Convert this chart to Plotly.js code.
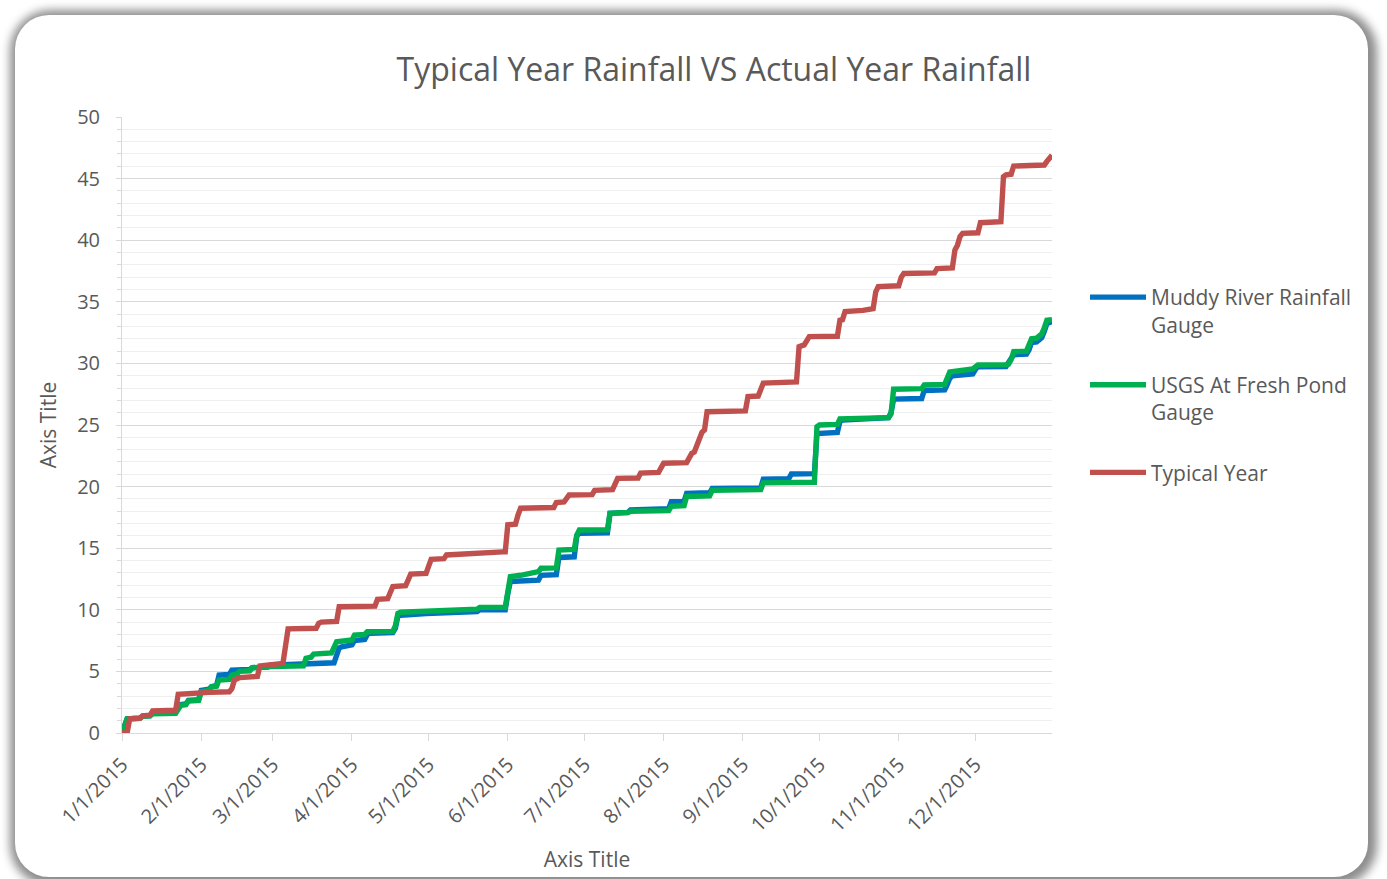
<!DOCTYPE html>
<html>
<head>
<meta charset="utf-8">
<script src="https://cdn.plot.ly/plotly-3.0.1.min.js"></script>
<style>
  html, body { margin:0; padding:0; background:#ffffff; width:1387px; height:879px; overflow:hidden; }
  #frame { position:absolute; left:15px; top:15px; width:1353px; height:862px; background:#ffffff;
           border-radius:34px; box-shadow: 2px 2px 10px 7px rgba(0,0,0,0.45); }
  #chart { position:absolute; left:0; top:0; width:1387px; height:879px; }
</style>
</head>
<body>
<div id="frame"></div>
<div id="chart"></div>
<script>
// ---- Data ----
const muddyDates = ['2015-01-01','2015-01-02','2015-01-03','2015-01-08','2015-01-09','2015-01-12','2015-01-13','2015-01-22','2015-01-23','2015-01-24','2015-01-26','2015-01-27','2015-01-31','2015-02-01','2015-02-04','2015-02-05','2015-02-07','2015-02-08','2015-02-12','2015-02-13','2015-02-20','2015-02-21','2015-02-27','2015-02-28','2015-03-25','2015-03-26','2015-03-27','2015-03-28','2015-04-01','2015-04-02','2015-04-06','2015-04-07','2015-04-08','2015-04-17','2015-04-18','2015-04-19','2015-04-20','2015-04-30','2015-05-20','2015-05-21','2015-05-31','2015-06-01','2015-06-02','2015-06-13','2015-06-14','2015-06-20','2015-06-21','2015-06-27','2015-06-28','2015-06-29','2015-07-10','2015-07-11','2015-07-18','2015-07-19','2015-08-03','2015-08-04','2015-08-09','2015-08-10','2015-08-19','2015-08-20','2015-09-08','2015-09-09','2015-09-19','2015-09-20','2015-09-29','2015-09-30','2015-10-08','2015-10-09','2015-10-10','2015-10-28','2015-10-29','2015-10-30','2015-11-10','2015-11-11','2015-11-19','2015-11-20','2015-11-21','2015-11-22','2015-11-30','2015-12-01','2015-12-02','2015-12-13','2015-12-14','2015-12-15','2015-12-16','2015-12-21','2015-12-22','2015-12-23','2015-12-25','2015-12-26','2015-12-27','2015-12-28','2015-12-29','2015-12-31'];
const muddyValues = [0,0.6,1.15,1.2,1.35,1.4,1.65,1.7,1.95,2.3,2.35,2.65,2.7,3.45,3.55,3.75,3.85,4.7,4.75,5.1,5.15,5.3,5.35,5.5,5.7,6.5,6.9,7.0,7.15,7.5,7.6,8.0,8.1,8.15,8.5,9.5,9.55,9.7,9.85,10.0,10.0,11.3,12.3,12.4,12.8,12.85,14.25,14.3,16.0,16.2,16.25,17.83,17.9,18.1,18.2,18.78,18.8,19.45,19.5,19.86,19.9,20.6,20.65,21.02,21.05,24.3,24.4,25.3,25.4,25.6,26.0,27.1,27.15,27.8,27.85,28.3,28.8,29.0,29.15,29.5,29.73,29.75,30.0,30.4,30.7,30.75,31.1,31.7,31.75,31.9,32.1,32.6,33.25,33.4];

const usgsDates = ['2015-01-01','2015-01-02','2015-01-03','2015-01-08','2015-01-09','2015-01-12','2015-01-13','2015-01-22','2015-01-23','2015-01-24','2015-01-26','2015-01-27','2015-01-31','2015-02-01','2015-02-04','2015-02-05','2015-02-07','2015-02-08','2015-02-12','2015-02-13','2015-02-15','2015-02-16','2015-02-20','2015-02-21','2015-02-27','2015-02-28','2015-03-13','2015-03-14','2015-03-16','2015-03-17','2015-03-24','2015-03-25','2015-03-26','2015-04-01','2015-04-02','2015-04-06','2015-04-07','2015-04-17','2015-04-18','2015-04-19','2015-04-20','2015-05-20','2015-05-21','2015-05-31','2015-06-01','2015-06-02','2015-06-06','2015-06-13','2015-06-14','2015-06-20','2015-06-21','2015-06-27','2015-06-28','2015-06-29','2015-07-10','2015-07-11','2015-07-18','2015-07-19','2015-08-03','2015-08-04','2015-08-09','2015-08-10','2015-08-19','2015-08-20','2015-09-08','2015-09-09','2015-09-29','2015-09-30','2015-10-01','2015-10-08','2015-10-09','2015-10-28','2015-10-29','2015-10-30','2015-11-10','2015-11-11','2015-11-19','2015-11-20','2015-11-21','2015-11-30','2015-12-01','2015-12-02','2015-12-13','2015-12-14','2015-12-15','2015-12-16','2015-12-21','2015-12-22','2015-12-23','2015-12-25','2015-12-26','2015-12-27','2015-12-28','2015-12-29','2015-12-31'];
const usgsValues = [0,0.6,1.15,1.2,1.35,1.4,1.55,1.6,1.9,2.25,2.3,2.6,2.65,3.35,3.45,3.75,3.8,4.3,4.35,4.7,4.8,5.0,5.05,5.3,5.35,5.4,5.45,6.06,6.15,6.4,6.5,6.9,7.4,7.55,7.95,8.0,8.22,8.25,8.7,9.71,9.8,10.05,10.2,10.2,11.5,12.69,12.8,13.1,13.37,13.4,14.85,14.9,16.07,16.48,16.5,17.83,17.9,18.0,18.05,18.4,18.45,19.2,19.25,19.7,19.75,20.3,20.35,24.86,25.0,25.05,25.5,25.6,25.9,27.9,27.95,28.25,28.3,28.9,29.3,29.55,29.75,29.87,29.9,29.95,30.3,30.95,31.0,31.5,32.0,32.05,32.2,32.4,32.9,33.5,33.55];

const typicalDates = ['2015-01-01','2015-01-03','2015-01-04','2015-01-08','2015-01-09','2015-01-12','2015-01-13','2015-01-22','2015-01-23','2015-02-03','2015-02-04','2015-02-12','2015-02-13','2015-02-14','2015-02-16','2015-02-23','2015-02-24','2015-03-05','2015-03-06','2015-03-07','2015-03-18','2015-03-19','2015-03-20','2015-03-26','2015-03-27','2015-04-10','2015-04-11','2015-04-15','2015-04-16','2015-04-17','2015-04-22','2015-04-23','2015-04-24','2015-04-30','2015-05-01','2015-05-02','2015-05-07','2015-05-08','2015-05-30','2015-05-31','2015-06-01','2015-06-04','2015-06-05','2015-06-06','2015-06-19','2015-06-20','2015-06-23','2015-06-24','2015-06-25','2015-07-04','2015-07-05','2015-07-12','2015-07-13','2015-07-14','2015-07-22','2015-07-23','2015-07-30','2015-07-31','2015-08-01','2015-08-10','2015-08-12','2015-08-13','2015-08-14','2015-08-15','2015-08-16','2015-08-17','2015-08-18','2015-09-02','2015-09-03','2015-09-07','2015-09-08','2015-09-09','2015-09-22','2015-09-23','2015-09-25','2015-09-27','2015-10-08','2015-10-09','2015-10-10','2015-10-11','2015-10-18','2015-10-22','2015-10-23','2015-10-24','2015-11-01','2015-11-02','2015-11-03','2015-11-15','2015-11-16','2015-11-22','2015-11-23','2015-11-24','2015-11-25','2015-11-26','2015-12-02','2015-12-03','2015-12-11','2015-12-12','2015-12-13','2015-12-15','2015-12-16','2015-12-28','2015-12-29','2015-12-30','2015-12-31'];
const typicalValues = [0,0,1.15,1.2,1.4,1.45,1.8,1.85,3.15,3.2,3.3,3.35,3.6,4.3,4.5,4.6,5.45,5.65,7.5,8.45,8.5,8.9,9.0,9.05,10.25,10.3,10.85,10.9,11.4,11.88,11.95,12.5,12.9,12.95,13.6,14.1,14.15,14.45,14.7,14.7,16.9,16.95,17.7,18.24,18.3,18.7,18.75,19.0,19.32,19.35,19.7,19.75,20.2,20.67,20.7,21.1,21.15,21.6,21.9,21.95,22.7,22.8,23.3,23.8,24.4,24.6,26.08,26.15,27.3,27.35,27.9,28.4,28.5,31.36,31.5,32.17,32.2,33.5,33.55,34.2,34.3,34.45,35.8,36.23,36.3,37.0,37.3,37.35,37.7,37.75,39.2,39.6,40.3,40.56,40.6,41.42,41.5,45.16,45.3,45.35,46.02,46.1,46.4,46.7,46.9];

const seriesNames = ['Muddy River Rainfall<br>Gauge', 'USGS At Fresh Pond<br>Gauge', 'Typical Year'];
const seriesColors = ['#0070C0', '#00B050', '#C0504D'];

const tickDates = ['2015-01-01','2015-02-01','2015-03-01','2015-04-01','2015-05-01','2015-06-01','2015-07-01','2015-08-01','2015-09-01','2015-10-01','2015-11-01','2015-12-01'];
const tickLabels = ['1/1/2015','2/1/2015','3/1/2015','4/1/2015','5/1/2015','6/1/2015','7/1/2015','8/1/2015','9/1/2015','10/1/2015','11/1/2015','12/1/2015'];
const yTicks = [0,5,10,15,20,25,30,35,40,45,50];

const chartTitle = 'Typical Year Rainfall VS Actual Year Rainfall';
const axisTitle = 'Axis Title';

// ---- Traces ----
const FONT = '"Open Sans", "Noto Sans", sans-serif';
const TXT = '#595959';
const xs = [muddyDates, usgsDates, typicalDates];
const ys = [muddyValues, usgsValues, typicalValues];
const traces = xs.map((x, i) => ({
  type: 'scatter', mode: 'lines', x: x, y: ys[i], name: seriesNames[i],
  legendgroup: 'g' + i,
  line: { color: seriesColors[i], width: 5.4, shape: 'linear' },
  hoverinfo: 'x+y'
}));

const layout = {
  width: 1387, height: 879,
  paper_bgcolor: 'rgba(0,0,0,0)',
  plot_bgcolor: 'rgba(0,0,0,0)',
  margin: { l: 122, r: 335, t: 117, b: 146, pad: 0 },
  font: { family: FONT, color: TXT, size: 21 },
  title: {
    text: chartTitle,
    font: { family: FONT, size: 32, color: TXT },
    x: 714 / 1387, xanchor: 'center', xref: 'container',
    y: 1 - 70 / 879, yanchor: 'middle', yref: 'container'
  },
  xaxis: {
    type: 'date',
    range: ['2015-01-01', '2015-12-31'],
    tickmode: 'array', tickvals: tickDates, ticktext: tickLabels,
    tickangle: -45,
    tickfont: { family: FONT, size: 20, color: TXT },
    ticks: 'outside', ticklen: 7, tickcolor: '#d9d9d9', tickwidth: 1,
    ticklabelstandoff: 4,
    showgrid: false, zeroline: false,
    showline: true, linecolor: '#d9d9d9', linewidth: 1,
    title: { text: axisTitle, font: { family: FONT, size: 21, color: TXT }, standoff: 16 },
    fixedrange: true
  },
  yaxis: {
    range: [0, 50],
    tickmode: 'array', tickvals: yTicks,
    tickfont: { family: FONT, size: 20, color: TXT },
    ticks: 'outside', ticklen: 5, tickcolor: '#d9d9d9',
    ticklabelstandoff: 12,
    showgrid: true, gridcolor: '#d9d9d9', gridwidth: 1,
    minor: { dtick: 1, showgrid: true, gridcolor: '#efefef', gridwidth: 1, ticks: 'outside', ticklen: 4, tickcolor: '#d9d9d9' },
    zeroline: false,
    showline: true, linecolor: '#d9d9d9', linewidth: 1,
    title: { text: axisTitle, font: { family: FONT, size: 21, color: TXT }, standoff: 14 },
    fixedrange: true
  },
  legend: {
    x: (1085 - 122) / 930, xanchor: 'left',
    y: (733 - 277) / 616, yanchor: 'top',
    font: { family: FONT, size: 21, color: TXT },
    bgcolor: 'rgba(0,0,0,0)',
    traceorder: 'grouped', tracegroupgap: 30,
    valign: 'top', itemwidth: 56
  },
  showlegend: true,
  hovermode: 'closest'
};

Plotly.newPlot('chart', traces, layout, { displayModeBar: false, staticPlot: true });
</script>
</body>
</html>
